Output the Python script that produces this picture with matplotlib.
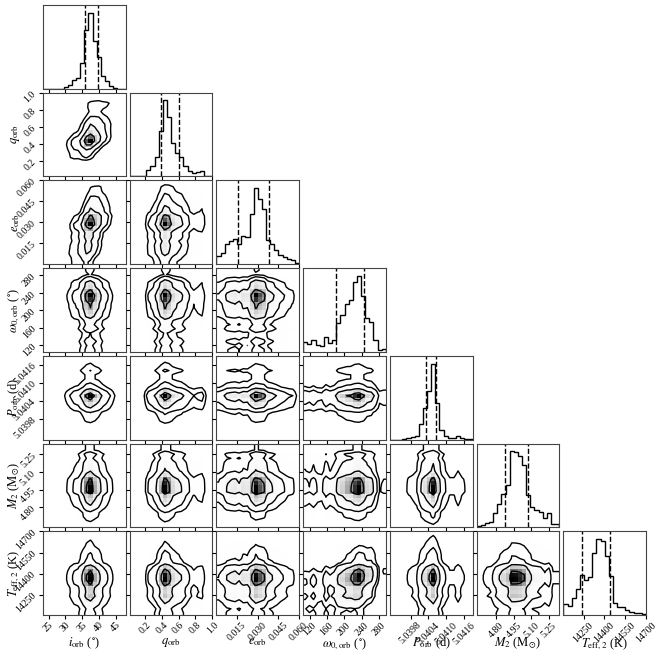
import numpy as np
import matplotlib
matplotlib.use("Agg")
import matplotlib.pyplot as plt
from matplotlib.colors import LinearSegmentedColormap
from statistics import NormalDist

plt.rcParams['font.family'] = ['Liberation Serif', 'DejaVu Serif']
plt.rcParams['mathtext.fontset'] = 'stix'

# parameter labels
labels = [r"$i_{\rm orb}$ ($^{\circ}$)", r"$q_{\rm orb}$", r"$e_{\rm orb}$",
          r"$\omega_{0,\rm orb}$ ($^{\circ}$)", r"$P_{\rm orb}$ (d)",
          r"$M_2$ ($\rm M_{\odot}$)", r"$T_{\rm eff,2}$ (K)"]

# axis ranges (20 bins each)
i_range = (23.3, 48.0)
q_range = (0.02, 1.0)
e_range = (0.0, 0.060)
w_range = (105.0, 296.0)
p_range = (5.0391, 5.0419)
m2_range = (4.63, 5.34)
teff_range = (14105.0, 14700.0)

# marginal histogram heights (peak = 100)
i_counts = [0, 0, 0, 0, 0, 2, 5, 11, 14, 34, 77, 100, 63, 41, 17, 10, 4, 1, 0, 0]
q_counts = [0, 0, 0, 1, 8, 13, 26, 60, 100, 78, 44, 31, 25, 14, 7, 4, 6, 7, 1, 0]
e_counts = [10, 14, 26, 30, 33, 27, 37, 35, 66, 100, 85, 72, 32, 26, 18, 12, 9, 6, 5, 1]
w_counts = [13, 10, 15, 9, 8, 19, 12, 16, 38, 48, 63, 68, 92, 100, 74, 45, 39, 16, 3, 4]
p_counts = [0, 0, 0, 0.5, 2, 3, 5, 21, 41, 64, 100, 48, 12, 5, 2, 2, 5, 2, 1, 0.5]
m2_counts = [1, 3, 6, 7, 19, 30, 43, 55, 99, 98, 93, 81, 42, 26, 23, 20, 12, 18, 4, 4]
teff_counts = [15, 12, 22, 34, 53, 46, 50, 81, 100, 98, 78, 51, 16, 11, 10, 7, 4, 3, 2, 1]

# 16th / 84th percentile lines
q16 = [35.8, 0.39, 0.0156, 181.4, 5.04032, 4.87, 14240]
q84 = [39.8, 0.60, 0.0384, 246.3, 5.04066, 5.07, 14440]

# tick positions and formats
i_ticks = [25, 30, 35, 40, 45]
q_ticks = [0.2, 0.4, 0.6, 0.8, 1.0]
e_ticks = [0.015, 0.030, 0.045, 0.060]
w_ticks = [120, 160, 200, 240, 280]
p_ticks = [5.0398, 5.0404, 5.0410, 5.0416]
m2_ticks = [4.80, 4.95, 5.10, 5.25]
teff_ticks = [14250, 14400, 14550, 14700]
tick_fmt = ["{:.0f}", "{:.1f}", "{:.3f}", "{:.0f}", "{:.4f}", "{:.2f}", "{:.0f}"]

# visible correlations between pairs (row, col)
rho = {(1, 0): 0.45, (2, 0): 0.4, (2, 1): 0.1, (6, 3): 0.3}

ranges = [i_range, q_range, e_range, w_range, p_range, m2_range, teff_range]
counts = [i_counts, q_counts, e_counts, w_counts, p_counts, m2_counts, teff_counts]
ticks = [i_ticks, q_ticks, e_ticks, w_ticks, p_ticks, m2_ticks, teff_ticks]
levels = 1.0 - np.exp(-0.5 * np.arange(0.5, 2.1, 0.5) ** 2)
ndim = len(labels)


def normal_scores(c):
    c = np.asarray(c, float)
    cdf = (np.cumsum(c) - 0.5 * c) / c.sum()
    cdf = np.clip(cdf, 1e-3, 1 - 1e-3)
    return np.array([NormalDist().inv_cdf(u) for u in cdf])


def joint_hist(cx, cy, r):
    H = np.outer(np.asarray(cx, float), np.asarray(cy, float))
    if r:
        a = normal_scores(cx)[:, None]
        b = normal_scores(cy)[None, :]
        H *= np.exp(-(r ** 2 * (a ** 2 + b ** 2) - 2 * r * a * b) / (2 * (1 - r ** 2))) / np.sqrt(1 - r ** 2)
    return H / H.max()


def hist2d(ax, H, xr, yr):
    X = np.linspace(xr[0], xr[1], H.shape[0] + 1)
    Y = np.linspace(yr[0], yr[1], H.shape[1] + 1)
    # flatter surface for the contour levels, sharper one for the shading
    Hc = H ** 0.6
    Hs = H ** 1.15
    Hflat = np.sort(Hc.flatten())[::-1]
    sm = np.cumsum(Hflat)
    sm /= sm[-1]
    V = np.empty(len(levels))
    for k, v0 in enumerate(levels):
        sel = Hflat[sm <= v0]
        V[k] = sel[-1] if len(sel) else Hflat[0]
    V.sort()

    X1, Y1 = 0.5 * (X[1:] + X[:-1]), 0.5 * (Y[1:] + Y[:-1])
    H2 = Hc.min() + np.zeros((H.shape[0] + 4, H.shape[1] + 4))
    H2[2:-2, 2:-2] = Hc
    H2[2:-2, 1] = Hc[:, 0]
    H2[2:-2, -2] = Hc[:, -1]
    H2[1, 2:-2] = Hc[0]
    H2[-2, 2:-2] = Hc[-1]
    H2[1, 1] = Hc[0, 0]
    H2[1, -2] = Hc[0, -1]
    H2[-2, 1] = Hc[-1, 0]
    H2[-2, -2] = Hc[-1, -1]
    X2 = np.concatenate([X1[0] + np.array([-2, -1]) * np.diff(X1[:2]), X1,
                         X1[-1] + np.array([1, 2]) * np.diff(X1[-2:])])
    Y2 = np.concatenate([Y1[0] + np.array([-2, -1]) * np.diff(Y1[:2]), Y1,
                         Y1[-1] + np.array([1, 2]) * np.diff(Y1[-2:])])

    dens = LinearSegmentedColormap.from_list("dens", ["k", (1, 1, 1, 0)])
    ax.pcolormesh(X, Y, Hs.max() - Hs.T, cmap=dens, edgecolors="none",
                  antialiased=False, shading="flat")
    ax.contour(X2, Y2, H2.T, V, colors="k", linewidths=1.0)


fig, axes = plt.subplots(ndim, ndim, figsize=(6.64, 6.53), dpi=100)
fig.subplots_adjust(left=43 / 664, right=646 / 664, bottom=1 - 615 / 653, top=1 - 5 / 653,
                    wspace=0.05, hspace=0.05)

for i in range(ndim):
    for j in range(ndim):
        ax = axes[i, j]
        if j > i:
            ax.set_frame_on(False)
            ax.set_xticks([])
            ax.set_yticks([])
            continue
        if i == j:
            edges = np.linspace(ranges[i][0], ranges[i][1], len(counts[i]) + 1)
            ax.stairs(counts[i], edges, color="k", linewidth=1.0, baseline=0)
            ax.axvline(q16[i], ls="dashed", color="k", lw=1.0)
            ax.axvline(q84[i], ls="dashed", color="k", lw=1.0)
            ax.set_ylim(0, 1.1 * max(counts[i]))
            ax.set_yticks([])
        else:
            H = joint_hist(counts[j], counts[i], rho.get((i, j), 0.0))
            hist2d(ax, H, ranges[j], ranges[i])
            ax.set_ylim(ranges[i])
            ax.set_yticks(ticks[i])
            if j == 0:
                ax.set_yticklabels([tick_fmt[i].format(t) for t in ticks[i]], rotation=45, fontsize=7)
                ax.set_ylabel(labels[i], fontsize=9)
                ax.yaxis.set_label_coords(-0.26, 0.5)
            else:
                ax.set_yticklabels([])
        ax.set_xlim(ranges[j])
        ax.set_xticks(ticks[j])
        if i == ndim - 1:
            ax.set_xticklabels([tick_fmt[j].format(t) for t in ticks[j]], rotation=45, fontsize=7)
            ax.set_xlabel(labels[j], fontsize=9)
            ax.xaxis.set_label_coords(0.5, -0.25)
        else:
            ax.set_xticklabels([])
        ax.tick_params(length=3, width=0.8, pad=1)
        for s in ax.spines.values():
            s.set_color("#444444")

fig.savefig("out.png", dpi=100)
